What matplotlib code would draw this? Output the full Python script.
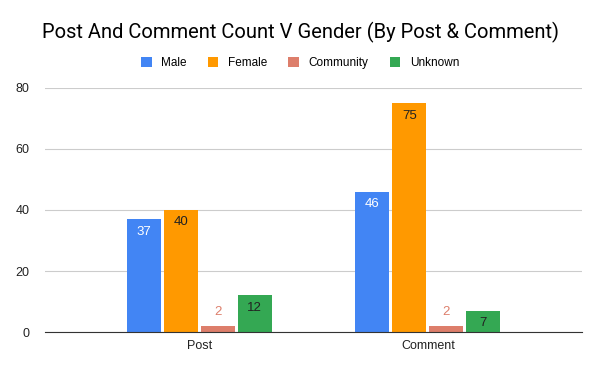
import numpy as np
import matplotlib.pyplot as plt

categories = ["Post", "Comment"]
series = ["Male", "Female", "Community", "Unknown"]
male = [37, 46]
female = [40, 75]
community = [2, 2]
unknown = [12, 7]

colors = ["#4285F4", "#FF9900", "#DD7E6B", "#34A853"]
label_colors = ["white", "#222222", "#DD7E6B", "#222222"]

plt.rcParams["font.family"] = ["Liberation Sans", "DejaVu Sans"]

fig = plt.figure(figsize=(6, 3.71), dpi=100)
ax = fig.add_axes([0.075, 0.105, 0.895, 0.658])

x = np.arange(len(categories))
pitch = 0.1616
width = 0.148
values = [male, female, community, unknown]
for i, (name, vals) in enumerate(zip(series, values)):
    pos = x + (i - 1.5) * pitch
    bars = ax.bar(pos, vals, width, color=colors[i], label=name, zorder=3)
    for b, v in zip(bars, vals):
        # small values get their label above the bar
        dy = -9 if v >= 5 else 10
        ax.annotate(str(v), (b.get_x() + b.get_width() / 2, v),
                    xytext=(0, dy), textcoords="offset points",
                    ha="center", va="center", fontsize=9.5,
                    color=label_colors[i], zorder=4)

ax.set_xlim(-0.674, 1.674)
ax.set_ylim(0, 80)
ax.set_yticks([0, 20, 40, 60, 80])
ax.set_xticks(x)
ax.set_xticklabels(categories)
ax.tick_params(axis="both", length=0, labelsize=9, labelcolor="#222222")
ax.tick_params(axis="y", pad=11)
ax.tick_params(axis="x", pad=6)
ax.grid(axis="y", color="#cccccc", linewidth=0.8, zorder=0)
for s in ["top", "right", "left"]:
    ax.spines[s].set_visible(False)
ax.spines["bottom"].set_color("#333333")
ax.spines["bottom"].set_zorder(5)

fig.text(0.5, 0.913, "Post And Comment Count V Gender (By Post & Comment)",
         ha="center", va="center", fontsize=14.5, family=["Roboto", "DejaVu Sans"])
fig.legend(loc="center", bbox_to_anchor=(0.5, 0.83), ncol=4, frameon=False,
           fontsize=8.5, handlelength=0.9, handleheight=0.9, columnspacing=1.8,
           handletextpad=0.8)

plt.savefig("out.png", dpi=100)
